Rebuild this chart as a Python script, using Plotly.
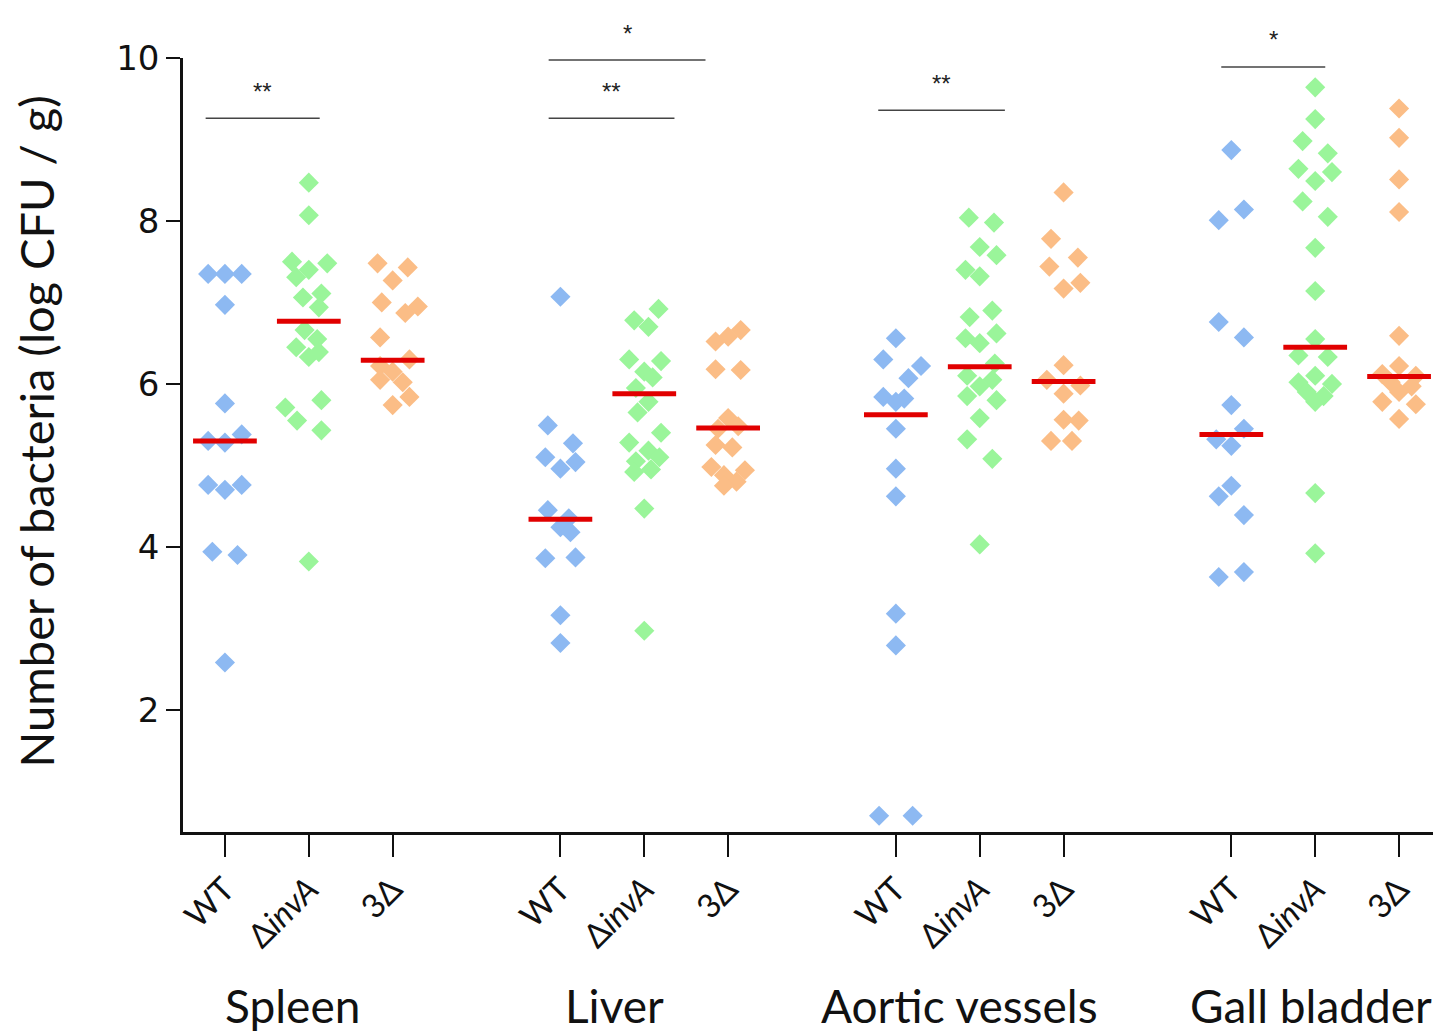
import plotly.graph_objects as go

# ---------------- data ----------------
organs = ["Spleen", "Liver", "Aortic vessels", "Gall bladder"]
strains = ["WT", "ΔinvA", "3Δ"]
strain_ticktext = ["WT", "Δ<i>invA</i>", "3Δ"]

spleen_wt = [7.35, 7.35, 7.35, 6.97, 5.76, 5.38, 5.30, 5.28, 4.76, 4.70, 4.76, 3.94, 3.90, 2.58]
spleen_wt_dx = [-0.2, 0.0, 0.2, 0.0, 0.0, 0.2, -0.2, 0.0, -0.2, 0.0, 0.2, -0.15, 0.15, 0.0]
spleen_inv = [8.47, 8.07, 7.50, 7.48, 7.40, 7.31, 7.11, 7.06, 6.94, 6.66, 6.55, 6.45, 6.39, 6.33, 5.80, 5.71, 5.55, 5.43, 3.82]
spleen_inv_dx = [0.0, 0.0, -0.2, 0.22, 0.0, -0.15, 0.15, -0.07, 0.12, -0.05, 0.1, -0.15, 0.12, 0.0, 0.15, -0.28, -0.14, 0.15, 0.0]
spleen_3d = [7.48, 7.43, 7.27, 7.00, 6.95, 6.87, 6.57, 6.30, 6.22, 6.15, 6.05, 6.02, 5.84, 5.74]
spleen_3d_dx = [-0.18, 0.18, 0.0, -0.13, 0.3, 0.15, -0.15, 0.2, -0.15, 0.0, -0.15, 0.12, 0.2, 0.0]

liver_wt = [7.07, 5.49, 5.27, 5.10, 5.04, 4.96, 4.45, 4.35, 4.24, 4.18, 3.86, 3.87, 3.16, 2.82]
liver_wt_dx = [0.0, -0.15, 0.15, -0.18, 0.18, 0.0, -0.15, 0.1, 0.0, 0.12, -0.18, 0.18, 0.0, 0.0]
liver_inv = [6.92, 6.78, 6.70, 6.30, 6.28, 6.15, 6.08, 5.95, 5.78, 5.65, 5.40, 5.28, 5.18, 5.10, 5.05, 4.92, 4.95, 4.47, 2.97]
liver_inv_dx = [0.17, -0.12, 0.05, -0.18, 0.2, 0.0, 0.1, -0.1, 0.05, -0.08, 0.2, -0.18, 0.05, 0.18, -0.1, -0.12, 0.08, 0.0, 0.0]
liver_3d = [6.66, 6.58, 6.52, 6.18, 6.17, 5.58, 5.48, 5.45, 5.25, 5.22, 4.98, 4.94, 4.88, 4.80, 4.75]
liver_3d_dx = [0.15, 0.0, -0.15, -0.15, 0.15, 0.0, 0.12, -0.12, -0.15, 0.05, -0.2, 0.2, -0.05, 0.1, -0.05]

aortic_wt = [6.56, 6.30, 6.22, 6.07, 5.84, 5.82, 5.78, 5.45, 4.96, 4.62, 3.18, 2.79, 0.70, 0.70]
aortic_wt_dx = [0.0, -0.15, 0.3, 0.15, -0.15, 0.1, 0.0, 0.0, 0.0, 0.0, 0.0, 0.0, -0.2, 0.2]
aortic_inv = [8.04, 7.98, 7.68, 7.58, 7.40, 7.32, 6.90, 6.82, 6.62, 6.56, 6.50, 6.25, 6.10, 6.05, 5.97, 5.85, 5.80, 5.58, 5.32, 5.08, 4.03]
aortic_inv_dx = [-0.13, 0.17, 0.0, 0.2, -0.17, 0.0, 0.15, -0.12, 0.2, -0.17, 0.0, 0.18, -0.15, 0.15, 0.0, -0.15, 0.2, 0.0, -0.15, 0.15, 0.0]
aortic_3d = [8.35, 7.78, 7.55, 7.44, 7.24, 7.17, 6.23, 6.05, 5.98, 5.88, 5.56, 5.55, 5.30, 5.30]
aortic_3d_dx = [0.0, -0.15, 0.17, -0.17, 0.2, 0.0, 0.0, -0.2, 0.2, 0.0, 0.0, 0.18, -0.15, 0.1]

gall_wt = [8.87, 8.14, 8.01, 6.76, 6.57, 5.74, 5.45, 5.32, 5.24, 4.75, 4.62, 4.39, 3.63, 3.69]
gall_wt_dx = [0.0, 0.15, -0.15, -0.15, 0.15, 0.0, 0.15, -0.18, 0.0, 0.0, -0.15, 0.15, -0.15, 0.15]
gall_inv = [9.64, 9.25, 8.98, 8.83, 8.64, 8.60, 8.49, 8.24, 8.05, 7.67, 7.14, 6.55, 6.35, 6.33, 6.10, 6.02, 6.00, 5.90, 5.85, 5.78, 4.66, 3.92]
gall_inv_dx = [0.0, 0.0, -0.15, 0.15, -0.2, 0.2, 0.0, -0.15, 0.15, 0.0, 0.0, 0.0, -0.2, 0.15, 0.0, -0.2, 0.2, -0.1, 0.1, 0.0, 0.0, 0.0]
gall_3d = [9.38, 9.02, 8.51, 8.11, 6.59, 6.22, 6.12, 6.10, 6.02, 5.97, 5.90, 5.78, 5.75, 5.57]
gall_3d_dx = [0.0, 0.0, 0.0, 0.0, 0.0, 0.0, -0.2, 0.2, -0.1, 0.15, 0.0, -0.2, 0.2, 0.0]

medians = [5.30, 6.77, 6.29, 4.34, 5.88, 5.46, 5.62, 6.21, 6.03, 5.38, 6.45, 6.09]

# significance brackets: (x0, x1, y, label)
sig_x0 = [-0.23, 3.86, 3.86, 7.79, 11.88]
sig_x1 = [1.13, 5.36, 5.73, 9.30, 13.12]
sig_y = [9.26, 9.26, 9.975, 9.36, 9.89]
sig_label = ["**", "**", "*", "**", "*"]

# ---------------- figure ----------------
positions = [0, 1, 2, 4, 5, 6, 8, 9, 10, 12, 13, 14]
groups = [
    (spleen_wt, spleen_wt_dx), (spleen_inv, spleen_inv_dx), (spleen_3d, spleen_3d_dx),
    (liver_wt, liver_wt_dx), (liver_inv, liver_inv_dx), (liver_3d, liver_3d_dx),
    (aortic_wt, aortic_wt_dx), (aortic_inv, aortic_inv_dx), (aortic_3d, aortic_3d_dx),
    (gall_wt, gall_wt_dx), (gall_inv, gall_inv_dx), (gall_3d, gall_3d_dx),
]
colors = ["#8db9f2", "#9af59a", "#fbbd86"]

fig = go.Figure()
for i, ((vals, dx), pos) in enumerate(zip(groups, positions)):
    fig.add_trace(go.Scatter(
        x=[pos + d for d in dx], y=vals, mode="markers",
        marker=dict(symbol="diamond", size=15.5, color=colors[i % 3], line=dict(width=0)),
        showlegend=False, hoverinfo="y"))

for pos, m in zip(positions, medians):
    fig.add_trace(go.Scatter(
        x=[pos - 0.38, pos + 0.38], y=[m, m], mode="lines",
        line=dict(color="#e10000", width=5), showlegend=False, hoverinfo="y"))

for x0, x1, y, lab in zip(sig_x0, sig_x1, sig_y, sig_label):
    fig.add_shape(type="line", x0=x0, x1=x1, y0=y, y1=y, xref="x", yref="y",
                  line=dict(color="#444444", width=1.5))
    fig.add_annotation(x=(x0 + x1) / 2, y=y, xref="x", yref="y", text=lab,
                       showarrow=False, yshift=27,
                       font=dict(family="Liberation Sans, Arial", size=24, color="#222222"))

group_label_x = [0.8, 4.64, 8.76, 12.95]
for gx, name in zip(group_label_x, organs):
    fig.add_annotation(x=gx, y=-0.2245, xref="x", yref="paper", text=name,
                       showarrow=False, yanchor="middle",
                       font=dict(family="Lato, Noto Sans", size=46, color="#111111"))

fig.add_annotation(x=-0.141, y=0.517, xref="paper", yref="paper",
                   text="Number of bacteria (log CFU / g)", textangle=-90,
                   showarrow=False,
                   font=dict(family="Lato, Noto Sans", size=47, color="#111111"))

fig.update_layout(
    width=1433, height=1024,
    margin=dict(l=175, r=0, t=50, b=200),
    paper_bgcolor="white", plot_bgcolor="white",
    xaxis=dict(range=[-0.5, 14.5], tickvals=positions,
               ticktext=strain_ticktext * 4, tickangle=-45,
               ticks="outside", ticklen=22, tickwidth=2, tickcolor="#111111",
               showline=True, linecolor="#111111", linewidth=2.5,
               showgrid=False, zeroline=False,
               tickfont=dict(family="Lato, Noto Sans", size=33, color="#111111")),
    yaxis=dict(range=[0.5, 10], tickvals=[2, 4, 6, 8, 10],
               ticks="outside", ticklen=14, tickwidth=2, tickcolor="#111111",
               showline=True, linecolor="#111111", linewidth=2.5,
               showgrid=False, zeroline=False,
               tickfont=dict(family="DejaVu Sans", size=34, color="#111111")),
)

fig.write_html("out.html")
